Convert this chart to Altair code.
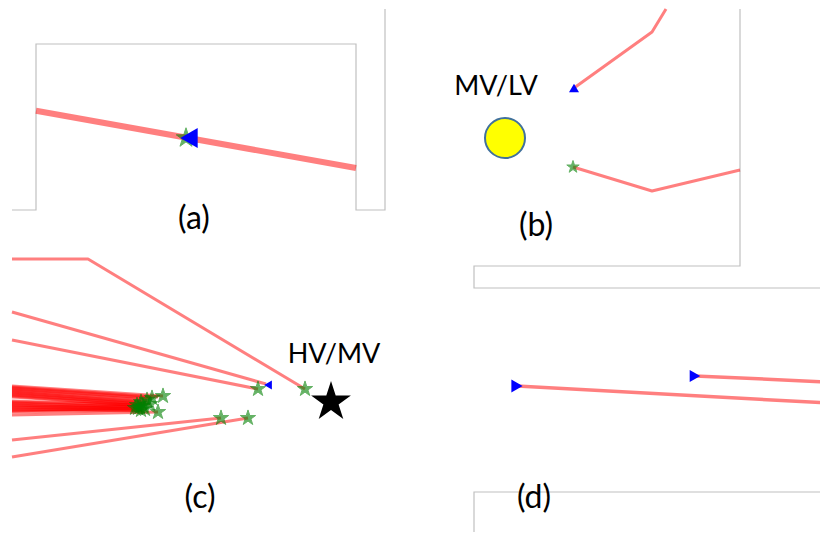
import altair as alt
import pandas as pd

# ---------------- data (reference-picture coordinates, px) ----------------
# gray frame polylines
frame_a_x = [12, 36, 36, 356, 356, 385, 385]
frame_a_y = [210, 210, 44, 44, 210, 210, 9]
frame_b_x = [740, 740, 474, 474, 828]
frame_b_y = [9, 266, 266, 288, 288]
frame_d_x = [474, 474, 828]
frame_d_y = [540, 492, 492]

# red feeder lines: (x list, y list)
line_a = ([36, 356], [110.7, 168])
lines_b = [([574, 652, 666], [88, 32, 9]),
           ([573, 652, 740], [167, 191, 170])]
lines_c = [([12, 88, 305], [259, 259, 389]),
           ([12, 266], [312, 384]),
           ([12, 258], [340, 389]),
           ([12, 221], [440, 418]),
           ([12, 248], [457, 418]),
           ([12, 158], [415, 412])]
# dense bundle of feeders in panel (c)
bundle_start_y = [386, 387, 388, 389, 390, 391, 392, 393, 394, 395, 396, 397,
                  401, 402, 403, 404, 405, 406, 407, 408, 409, 410, 411, 412]
bundle_end_x = [163, 158, 152, 150, 147, 149, 141, 146, 150, 144, 143, 140,
                137, 139, 140, 142, 145, 138, 141, 136, 143, 139, 135, 137]
bundle_end_y = [396, 397, 398, 398, 400, 401, 402, 403, 404, 404, 406, 405,
                405, 405, 407, 407, 409, 408, 410, 406, 411, 409, 408, 410]
lines_d = [([517, 828], [386, 403]),
           ([695, 828], [376, 382])]

# green star markers
star_x = [186, 573, 305, 258, 221, 248, 163, 152, 147, 141, 150, 143, 137, 140, 145, 138, 141, 135, 158]
star_y = [138, 167, 389, 389, 418, 418, 396, 398, 400, 402, 404, 406, 405, 407, 409, 408, 410, 408, 412]
star_s = [420, 170, 260, 260, 260, 260, 260, 260, 260, 260, 260, 260, 260, 260, 260, 260, 260, 260, 260]

# blue triangle markers
tri_x = [189, 574, 268, 517, 695]
tri_y = [138, 88, 385, 386, 376]
tri_shape = ["triangle-left", "triangle-up", "triangle-left", "triangle-right", "triangle-right"]
tri_s = [400, 100, 80, 170, 150]

# substations
sub_x = [505, 331]
sub_y = [138, 402]

# texts
lab_text = ["(a)", "(b)", "(c)", "(d)"]
lab_x = [194, 536, 200, 534]
lab_y = [219, 226, 498, 498]
name_text = ["MV/LV", "HV/MV"]
name_x = [496, 334]
name_y = [95, 363]

STAR = ("M0,-1 L0.2245,-0.309 L0.951,-0.309 L0.3633,0.118 L0.588,0.809 "
        "L0,0.382 L-0.588,0.809 L-0.3633,0.118 L-0.951,-0.309 L-0.2245,-0.309 Z")

# ---------------- build tables ----------------
def poly_rows(pid, xs, ys, **extra):
    return [dict(id=pid, k=i, x=a, y=b, **extra) for i, (a, b) in enumerate(zip(xs, ys))]

frames = pd.DataFrame(poly_rows("fa", frame_a_x, frame_a_y)
                      + poly_rows("fb", frame_b_x, frame_b_y)
                      + poly_rows("fd", frame_d_x, frame_d_y))

rows = poly_rows("a0", *line_a, w=6)
for i, (xs, ys) in enumerate(lines_b):
    rows += poly_rows(f"b{i}", xs, ys, w=3)
for i, (xs, ys) in enumerate(lines_c):
    rows += poly_rows(f"c{i}", xs, ys, w=3)
for i, (sy, ex, ey) in enumerate(zip(bundle_start_y, bundle_end_x, bundle_end_y)):
    rows += poly_rows(f"cb{i}", [12, ex], [sy, ey], w=3)
for i, (xs, ys) in enumerate(lines_d):
    rows += poly_rows(f"d{i}", xs, ys, w=3.5)
lines = pd.DataFrame(rows)

stars = pd.DataFrame(dict(x=star_x, y=star_y, s=star_s))
tris = pd.DataFrame(dict(x=tri_x, y=tri_y, shape=tri_shape, s=tri_s))
labels = pd.DataFrame(dict(x=lab_x, y=lab_y, t=lab_text))
names = pd.DataFrame(dict(x=name_x, y=name_y, t=name_text))

X = alt.Scale(domain=[8, 820], nice=False, zero=False)
Y = alt.Scale(domain=[8, 532], nice=False, zero=False, reverse=True)
xe = alt.X("x:Q", scale=X, axis=None)
ye = alt.Y("y:Q", scale=Y, axis=None)

frame_layer = alt.Chart(frames).mark_line(stroke="#c0c0c0", strokeWidth=1.2).encode(
    x=xe, y=ye, detail="id:N", order="k:Q")

line_layer = alt.Chart(lines).mark_line(stroke="#ff0000", opacity=0.5, strokeJoin="round").encode(
    x=xe, y=ye, detail="id:N", order="k:Q",
    strokeWidth=alt.StrokeWidth("w:Q", scale=None, legend=None))

star_layer = alt.Chart(stars).mark_point(
    shape=STAR, filled=True, fill="#008000", stroke="#008000", strokeWidth=1,
    strokeJoin="round", opacity=0.6).encode(
    x=xe, y=ye, size=alt.Size("s:Q", scale=None, legend=None))

tri_layer = alt.Chart(tris).mark_point(filled=True, fill="#0000ff", opacity=1, strokeWidth=0).encode(
    x=xe, y=ye,
    shape=alt.Shape("shape:N", scale=None, legend=None),
    size=alt.Size("s:Q", scale=None, legend=None))

circle_layer = alt.Chart(pd.DataFrame(dict(x=sub_x[:1], y=sub_y[:1]))).mark_point(
    shape="circle", filled=True, fill="#ffff00", stroke="#41719c", strokeWidth=2,
    opacity=1, size=1600).encode(x=xe, y=ye)

bstar_layer = alt.Chart(pd.DataFrame(dict(x=sub_x[1:], y=sub_y[1:]))).mark_point(
    shape=STAR, filled=True, fill="#000000", opacity=1, strokeWidth=0, size=1750).encode(x=xe, y=ye)

label_layer = alt.Chart(labels).mark_text(
    font="Lato", fontSize=32, color="#000000", align="center", baseline="middle").encode(
    x=xe, y=ye, text="t:N")

name_layer = alt.Chart(names).mark_text(
    font="Lato", fontSize=27, color="#000000", align="center", baseline="alphabetic").encode(
    x=xe, y=ye, text="t:N")

chart = alt.layer(frame_layer, line_layer, star_layer, tri_layer, circle_layer,
                  bstar_layer, label_layer, name_layer).properties(
    width=812, height=524, padding=0, autosize="none"
).configure_view(stroke=None)

chart.save("out.html", embed_options={"renderer": "svg", "actions": False})
